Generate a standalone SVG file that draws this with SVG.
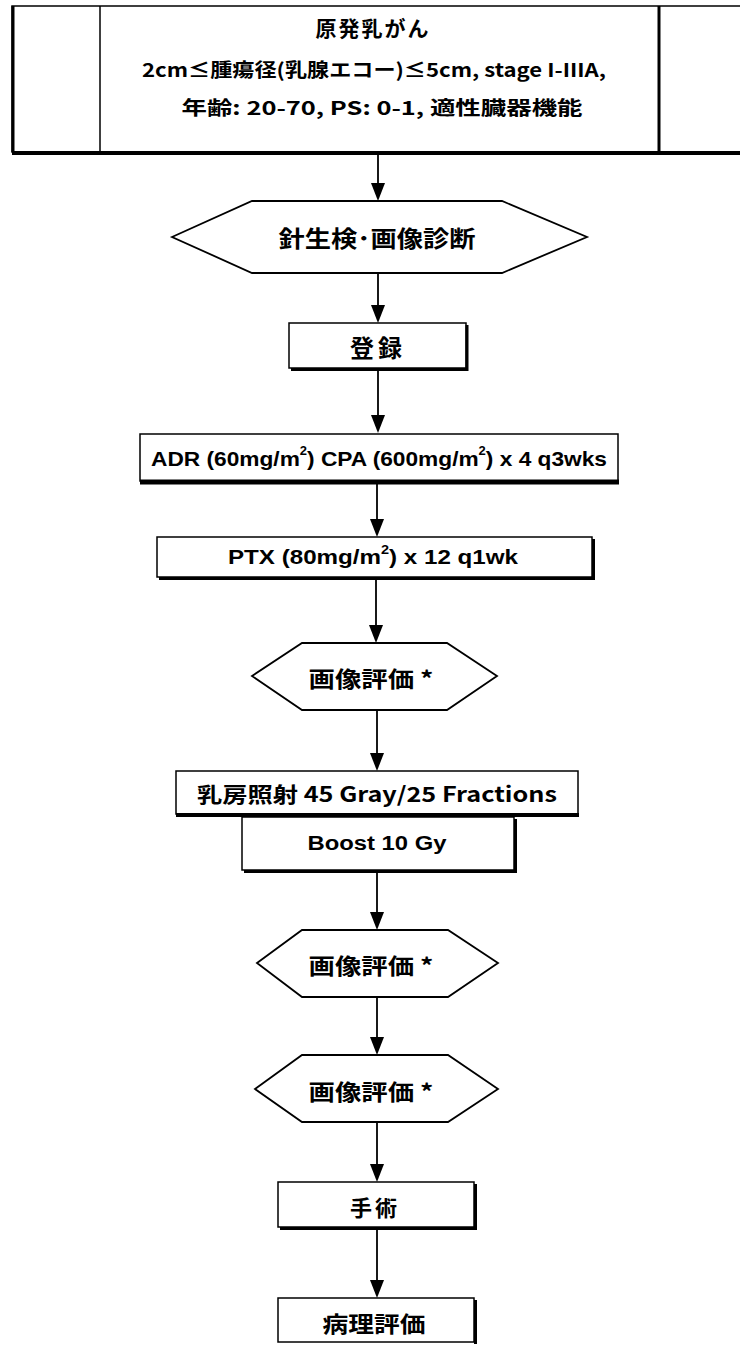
<svg xmlns="http://www.w3.org/2000/svg" width="740" height="1345" viewBox="0 0 740 1345">
<defs>
<style>
.box{fill:#fff;stroke:#000;stroke-width:1.5}
.sh{fill:none;stroke:#000;stroke-width:3}
.hex{fill:#fff;stroke:#000;stroke-width:1.8;stroke-linejoin:miter}
.jp{font-family:"Noto Sans CJK JP","Liberation Sans",sans-serif;font-weight:bold;fill:#000;text-anchor:middle;dominant-baseline:central}
.lt{font-family:"Liberation Sans","Noto Sans CJK JP",sans-serif;font-weight:bold;fill:#000;text-anchor:middle;dominant-baseline:central}
.con{stroke:#000;stroke-width:1.8;fill:none}
</style>
</defs>
<rect width="740" height="1345" fill="#fff"/>

<g id="connectors">
<line class="con" x1="378" y1="155" x2="378" y2="183"/><path d="M371,183 L385,183 L378,201 Z"/>
<line class="con" x1="378" y1="273" x2="378" y2="305"/><path d="M371,305 L385,305 L378,323 Z"/>
<line class="con" x1="378" y1="368" x2="378" y2="415"/><path d="M371,415 L385,415 L378,433 Z"/>
<line class="con" x1="377" y1="484" x2="377" y2="519"/><path d="M370,519 L384,519 L377,537 Z"/>
<line class="con" x1="376" y1="579" x2="376" y2="625"/><path d="M369,625 L383,625 L376,643 Z"/>
<line class="con" x1="377" y1="710" x2="377" y2="753"/><path d="M370,753 L384,753 L377,771 Z"/>
<line class="con" x1="377" y1="872" x2="377" y2="912"/><path d="M370,912 L384,912 L377,930 Z"/>
<line class="con" x1="377" y1="997" x2="377" y2="1037"/><path d="M370,1037 L384,1037 L377,1055 Z"/>
<line class="con" x1="377" y1="1122" x2="377" y2="1164"/><path d="M370,1164 L384,1164 L377,1182 Z"/>
<line class="con" x1="377" y1="1229" x2="377" y2="1280"/><path d="M370,1280 L384,1280 L377,1298 Z"/>
</g>

<g id="n-top">
<rect class="box" x="12" y="6" width="740" height="146" stroke-width="2"/>
<line x1="12" y1="153" x2="740" y2="153" stroke="#000" stroke-width="4"/>
<line x1="13" y1="6" x2="13" y2="152" stroke="#000" stroke-width="3"/>
<line x1="100" y1="6" x2="100" y2="152" stroke="#000" stroke-width="1.5"/>
<line x1="659" y1="6" x2="659" y2="152" stroke="#000" stroke-width="3"/>
<text class="jp" x="373" y="27" font-size="21" letter-spacing="2">原発乳がん</text>
<text class="jp" x="374" y="68" font-size="19" textLength="464" lengthAdjust="spacingAndGlyphs">2cm≤腫瘍径(乳腺エコー)≤5cm, stage I-IIIA,</text>
<text class="jp" x="382" y="106" font-size="19" textLength="401" lengthAdjust="spacingAndGlyphs">年齢: 20-70, PS: 0-1, 適性臓器機能</text>
</g>

<g id="n-biopsy">
<polygon class="hex" points="172,237 252,201 502,201 587,237 502,273 252,273"/>
<text class="jp" x="377" y="237" font-size="23" textLength="197" lengthAdjust="spacingAndGlyphs">針生検･画像診断</text>
</g>

<g id="n-register">
<rect class="box" x="289" y="323" width="177" height="45"/>
<path class="sh" d="M467,325 V369.5 H291" stroke-width="2"/>
<text class="jp" x="378" y="346" font-size="24" letter-spacing="4">登録</text>
</g>

<g id="n-adr">
<rect class="box" x="140" y="434" width="478" height="47"/>
<line x1="140" y1="482" x2="619" y2="482" stroke="#000" stroke-width="5"/>
<text class="lt" x="379" y="458" font-size="21" textLength="456" lengthAdjust="spacingAndGlyphs">ADR (60mg/m<tspan dy="-7" font-size="12">2</tspan><tspan dy="7">) CPA (600mg/m</tspan><tspan dy="-7" font-size="12">2</tspan><tspan dy="7">) x 4 q3wks</tspan></text>
</g>

<g id="n-ptx">
<rect class="box" x="157" y="537" width="435" height="40"/>
<path class="sh" d="M593.5,539 V578.5 H159"/>
<text class="lt" x="373" y="557" font-size="20" textLength="290" lengthAdjust="spacingAndGlyphs">PTX (80mg/m<tspan dy="-7" font-size="12">2</tspan><tspan dy="7">) x 12 q1wk</tspan></text>
</g>

<g id="n-eval1">
<polygon class="hex" points="252,676 302,643 447,643 497,676 447,710 302,710"/>
<text class="jp" x="371" y="677" font-size="22" textLength="125" lengthAdjust="spacingAndGlyphs">画像評価 *</text>
</g>

<g id="n-rt">
<rect class="box" x="176" y="771" width="402" height="43"/>
<line x1="176" y1="815" x2="579" y2="815" stroke="#000" stroke-width="4"/>
<text class="jp" x="377" y="793" font-size="21" textLength="360" lengthAdjust="spacingAndGlyphs">乳房照射  45 Gray/25 Fractions</text>
</g>

<g id="n-boost">
<rect class="box" x="242" y="817" width="272" height="53"/>
<path class="sh" d="M515.5,819 V871.5 H244"/>
<text class="lt" x="377" y="843" font-size="20" textLength="139" lengthAdjust="spacingAndGlyphs">Boost 10 Gy</text>
</g>

<g id="n-eval2">
<polygon class="hex" points="257,963 302,930 448,930 498,963 448,997 302,997"/>
<text class="jp" x="371" y="964" font-size="22" textLength="125" lengthAdjust="spacingAndGlyphs">画像評価 *</text>
</g>

<g id="n-eval3">
<polygon class="hex" points="255,1089 302,1055 448,1055 498,1089 448,1122 302,1122"/>
<text class="jp" x="371" y="1090" font-size="22" textLength="125" lengthAdjust="spacingAndGlyphs">画像評価 *</text>
</g>

<g id="n-surgery">
<rect class="box" x="278" y="1182" width="196" height="45"/>
<path class="sh" d="M475.5,1184 V1228.5 H280"/>
<text class="jp" x="375" y="1206" font-size="22" letter-spacing="3">手術</text>
</g>

<g id="n-path">
<rect class="box" x="278" y="1298" width="196" height="44"/>
<path class="sh" d="M475.5,1300 V1344"/>
<text class="jp" x="374" y="1322" font-size="22" textLength="103" lengthAdjust="spacingAndGlyphs">病理評価</text>
</g>
</svg>
